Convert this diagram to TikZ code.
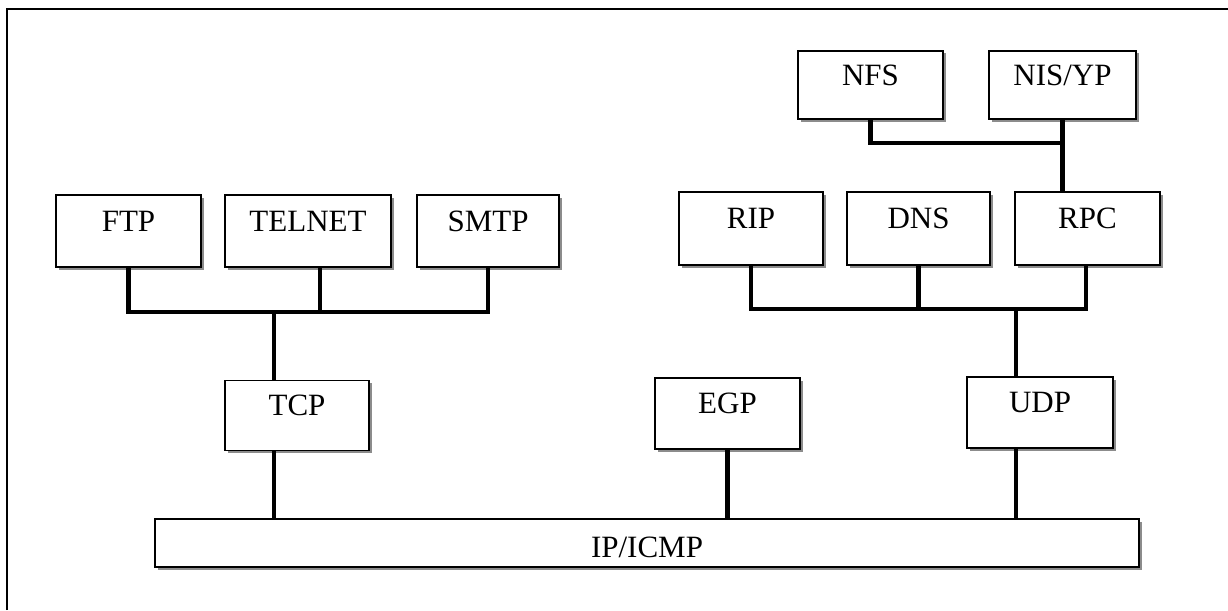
\documentclass[tikz,border=0pt]{standalone}
\usepackage{fontspec}
\setmainfont{Liberation Serif}
\usetikzlibrary{shadows}
\tikzset{
  proto/.style={draw=black, line width=1.1pt, fill=white, inner sep=0pt,
    text height=22pt, text depth=22pt,
    font=\fontsize{31}{37}\selectfont,
    drop shadow={shadow xshift=2.5pt, shadow yshift=-2.5pt, fill=black!45, opacity=1}},
  conn/.style={line width=4.5pt, line join=miter, black},
  frameline/.style={line width=1.2pt, black}
}
\begin{document}
\begin{tikzpicture}[x=1pt, y=-1pt]
\useasboundingbox (0,0) rectangle (1228,610);
\draw[frameline] (7,610) -- (7,9) -- (1228,9);

% upper layer
\node[proto, minimum width=145pt, minimum height=72pt] (ftp) at (128.5,231) {FTP};
\node[proto, minimum width=166pt, minimum height=72pt] (telnet) at (308,231) {TELNET};
\node[proto, minimum width=142pt, minimum height=72pt] (smtp) at (488,231) {SMTP};
\node[proto, minimum width=145pt, minimum height=68pt] (nfs) at (870.5,85) {NFS};
\node[proto, minimum width=147pt, minimum height=68pt] (nis) at (1062.5,85) {NIS/YP};
\node[proto, minimum width=144pt, minimum height=73pt] (rip) at (751,228.5) {RIP};
\node[proto, minimum width=143pt, minimum height=73pt] (dns) at (918.5,228.5) {DNS};
\node[proto, minimum width=145pt, minimum height=73pt] (rpc) at (1087.5,228.5) {RPC};
% transport layer
\node[proto, minimum width=144pt, minimum height=70pt] (tcp) at (297,415.5) {TCP};
\node[proto, minimum width=145pt, minimum height=71pt] (egp) at (727.5,413.5) {EGP};
\node[proto, minimum width=146pt, minimum height=71pt] (udp) at (1040,412.5) {UDP};
% network layer
\node[proto, minimum width=984pt, minimum height=48pt, text height=28pt, text depth=0pt] (ip) at (647,543) {IP/ICMP};

% junction points
\coordinate (tbus) at (274,312);
\coordinate (ubus) at (1016,309);
\coordinate (nbus) at (1062.5,143);

% TCP group
\draw[conn] (ftp.south) -- (ftp.south |- tbus) -- (smtp.south |- tbus) -- (smtp.south);
\draw[conn] ([xshift=12pt]telnet.south) -- ([xshift=12pt]telnet.south |- tbus);
\draw[conn] (tbus) -- (tbus |- tcp.north);
\draw[conn] (tbus |- tcp.south) -- (tbus |- ip.north);

% UDP group
\draw[conn] (rip.south) -- (rip.south |- ubus) -- ([xshift=-1.5pt]rpc.south |- ubus) -- ([xshift=-1.5pt]rpc.south);
\draw[conn] (dns.south) -- (dns.south |- ubus);
\draw[conn] (ubus) -- (ubus |- udp.north);
\draw[conn] (ubus |- udp.south) -- (ubus |- ip.north);

% EGP
\draw[conn] (egp.south) -- (egp.south |- ip.north);

% RPC group
\draw[conn] (nfs.south) -- (nfs.south |- nbus) -- (nbus);
\draw[conn] (nis.south) -- (nis.south |- rpc.north);
\end{tikzpicture}
\end{document}
